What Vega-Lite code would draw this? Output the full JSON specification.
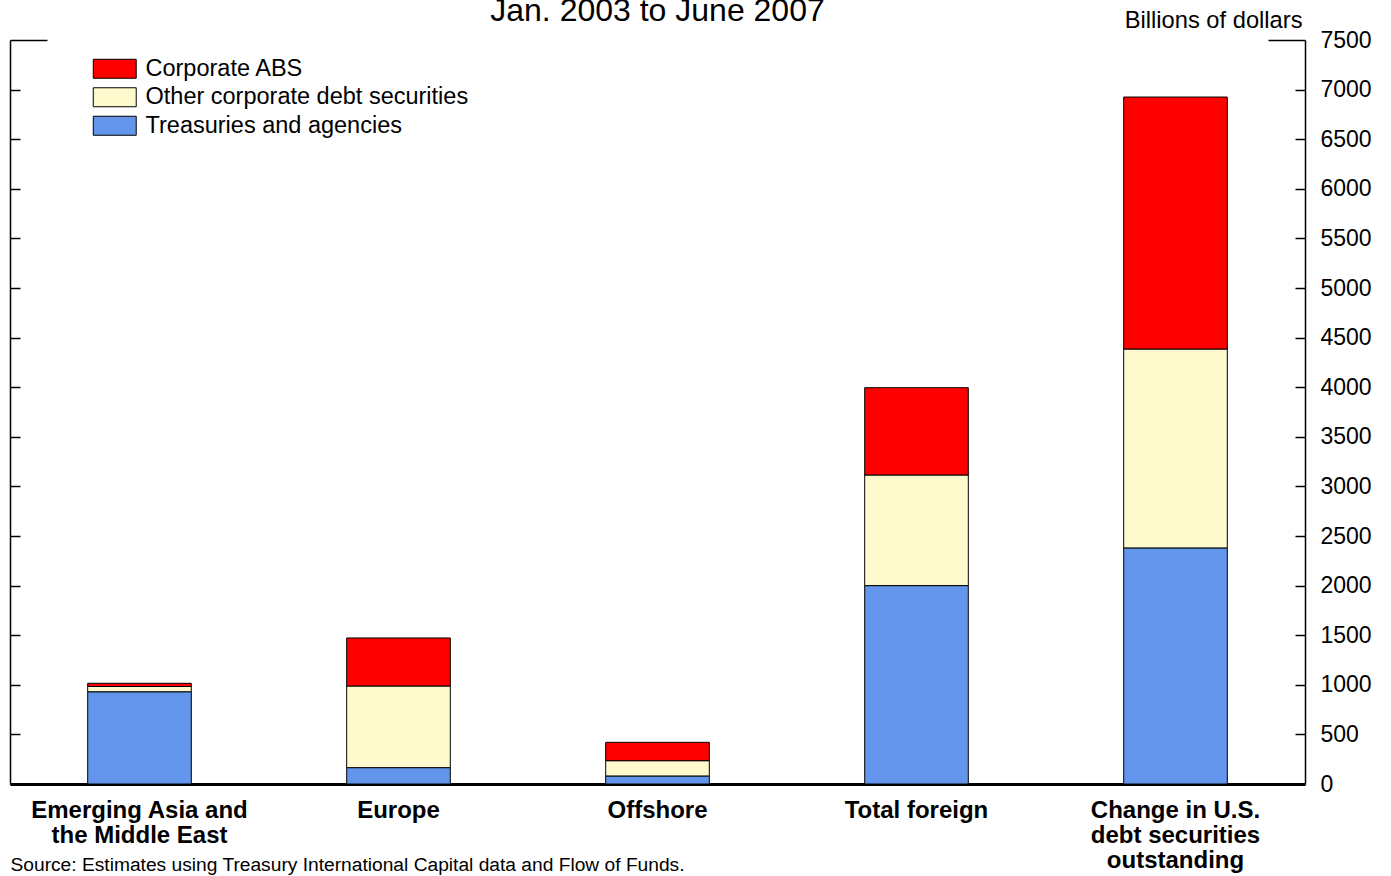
{
  "$schema": "https://vega.github.io/schema/vega-lite/v6.json",
  "autosize": {"type": "none"},
  "width": 1295,
  "height": 744,
  "padding": {"left": 10, "top": 40, "right": 86, "bottom": 92},
  "background": "white",
  "config": {
    "font": "Liberation Sans",
    "view": {"stroke": null}
  },
  "title": {
    "text": "Jan. 2003 to June 2007",
    "fontSize": 32,
    "fontWeight": "normal",
    "color": "black",
    "font": "Liberation Sans",
    "anchor": "middle",
    "frame": "group",
    "baseline": "alphabetic",
    "offset": -45
  },
  "data": {
    "values": [
      {"region": "Emerging Asia and the Middle East", "series": "Treasuries and agencies", "value": 930},
      {"region": "Emerging Asia and the Middle East", "series": "Other corporate debt securities", "value": 53},
      {"region": "Emerging Asia and the Middle East", "series": "Corporate ABS", "value": 32},
      {"region": "Europe", "series": "Treasuries and agencies", "value": 165},
      {"region": "Europe", "series": "Other corporate debt securities", "value": 823},
      {"region": "Europe", "series": "Corporate ABS", "value": 484},
      {"region": "Offshore", "series": "Treasuries and agencies", "value": 81},
      {"region": "Offshore", "series": "Other corporate debt securities", "value": 154},
      {"region": "Offshore", "series": "Corporate ABS", "value": 185},
      {"region": "Total foreign", "series": "Treasuries and agencies", "value": 2000},
      {"region": "Total foreign", "series": "Other corporate debt securities", "value": 1115},
      {"region": "Total foreign", "series": "Corporate ABS", "value": 880},
      {"region": "Change in U.S. debt securities outstanding", "series": "Treasuries and agencies", "value": 2380},
      {"region": "Change in U.S. debt securities outstanding", "series": "Other corporate debt securities", "value": 2005},
      {"region": "Change in U.S. debt securities outstanding", "series": "Corporate ABS", "value": 2540}
    ]
  },
  "encoding": {
    "x": {
      "field": "region",
      "type": "nominal",
      "sort": null,
      "scale": {"paddingInner": 0.6, "paddingOuter": 0.3},
      "axis": {
        "title": "Source: Estimates using Treasury International Capital data and Flow of Funds.",
        "titleFont": "Liberation Sans",
        "titleFontSize": 19.2,
        "titleFontWeight": "normal",
        "titleColor": "black",
        "titleX": 0,
        "titleY": 80,
        "titleAlign": "left",
        "titleBaseline": "middle",
        "titleAnchor": "start",
        "ticks": false,
        "domainColor": "black",
        "domainWidth": 3,
        "labelAngle": 0,
        "labelFont": "Liberation Sans",
        "labelFontSize": 24,
        "labelFontWeight": "bold",
        "labelColor": "black",
        "labelPadding": 14,
        "labelLimit": 0,
        "labelLineHeight": 25,
        "labelExpr": "datum.value == 'Emerging Asia and the Middle East' ? ['Emerging Asia and', 'the Middle East'] : datum.value == 'Change in U.S. debt securities outstanding' ? ['Change in U.S.', 'debt securities', 'outstanding'] : datum.label"
      }
    },
    "y": {
      "field": "value",
      "type": "quantitative",
      "aggregate": "sum",
      "stack": "zero",
      "scale": {"domain": [0, 7500], "nice": false}
    },
    "color": {
      "field": "series",
      "type": "nominal",
      "scale": {
        "domain": ["Corporate ABS", "Other corporate debt securities", "Treasuries and agencies"],
        "range": ["#FF0000", "#FFFACD", "#6495ED"]
      },
      "legend": {
        "title": null,
        "orient": "none",
        "legendX": 93,
        "legendY": 17,
        "padding": 0,
        "symbolType": "M-2.26,-1H2.26V1H-2.26Z",
        "symbolSize": 361,
        "symbolStrokeColor": "black",
        "symbolStrokeWidth": 1,
        "symbolOpacity": 1,
        "labelOffset": 19,
        "labelFont": "Liberation Sans",
        "labelFontSize": 23.5,
        "labelColor": "black",
        "labelLimit": 0,
        "rowPadding": 3.5
      }
    },
    "order": {"field": "series", "sort": "descending"}
  },
  "layer": [
    {
      "mark": {"type": "bar", "stroke": "black", "strokeWidth": 1},
      "encoding": {
        "y": {
          "field": "value",
          "type": "quantitative",
          "aggregate": "sum",
          "stack": "zero",
          "scale": {"domain": [0, 7500], "nice": false},
          "axis": {
            "orient": "right",
            "values": [0, 500, 1000, 1500, 2000, 2500, 3000, 3500, 4000, 4500, 5000, 5500, 6000, 6500, 7000, 7500],
            "format": "d",
            "grid": false,
            "domainColor": "black",
            "domainWidth": 1.5,
            "tickColor": "black",
            "tickWidth": 1.5,
            "tickSize": {"condition": {"test": "datum.value == 7500", "value": -37}, "value": -10},
            "labelPadding": {"condition": {"test": "datum.value == 7500", "value": 52}, "value": 25},
            "labelFont": "Liberation Sans",
            "labelFontSize": 23,
            "labelColor": "black",
            "labelBaseline": "middle",
            "labelFlush": false,
            "title": "Billions of dollars",
            "titleAngle": 0,
            "titleFont": "Liberation Sans",
            "titleFontSize": 23.7,
            "titleFontWeight": "normal",
            "titleColor": "black",
            "titleX": -3,
            "titleY": -20,
            "titleAlign": "right",
            "titleBaseline": "middle"
          }
        }
      }
    },
    {
      "mark": {"type": "bar", "fillOpacity": 0, "strokeOpacity": 0},
      "encoding": {
        "y": {
          "field": "value",
          "type": "quantitative",
          "aggregate": "sum",
          "stack": "zero",
          "scale": {"domain": [0, 7500], "nice": false},
          "axis": {
            "orient": "left",
            "values": [0, 500, 1000, 1500, 2000, 2500, 3000, 3500, 4000, 4500, 5000, 5500, 6000, 6500, 7000, 7500],
            "grid": false,
            "labels": false,
            "title": null,
            "domainColor": "black",
            "domainWidth": 1.5,
            "tickColor": "black",
            "tickWidth": 1.5,
            "tickSize": {"condition": {"test": "datum.value == 7500", "value": -37}, "value": -10}
          }
        }
      }
    }
  ],
  "resolve": {"axis": {"y": "independent"}}
}
